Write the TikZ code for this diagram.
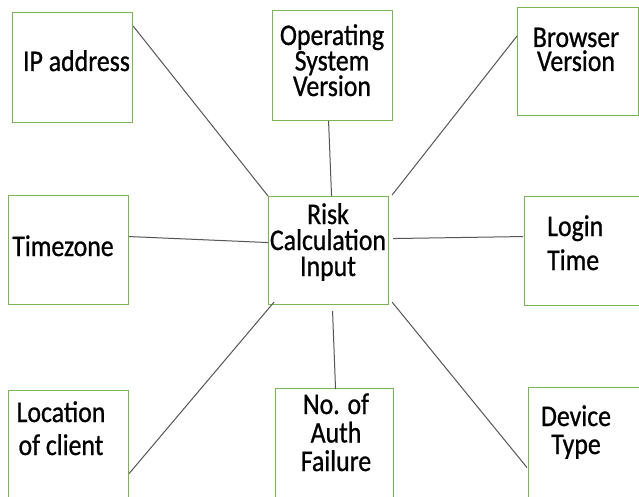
\documentclass[tikz,border=0pt]{standalone}
\usepackage{fontspec}
\setmainfont{Carlito}[FakeStretch=0.86,FakeBold=0.8]
\definecolor{boxgreen}{RGB}{122,180,84}
\definecolor{linkgray}{RGB}{85,85,85}
\begin{document}
\begin{tikzpicture}[x=1pt,y=-1pt,
  box/.style={draw=boxgreen,line width=1.1pt,inner sep=0pt,anchor=north west},
  lbl/.style={inner sep=0pt,anchor=base,align=center,text=black},
  link/.style={draw=linkgray,line width=1pt}]
\useasboundingbox[fill=white] (0,0) rectangle (639,497);
% boxes
\node[box,minimum width=120pt,minimum height=110pt] (ip) at (12,12) {};
\node[box,minimum width=120pt,minimum height=110pt] (os) at (272,10) {};
\node[box,minimum width=121pt,minimum height=108pt] (br) at (517,7) {};
\node[box,minimum width=120pt,minimum height=109pt] (tz) at (8,195) {};
\node[box,minimum width=120pt,minimum height=108pt] (risk) at (268,196) {};
\node[box,minimum width=120pt,minimum height=109pt] (login) at (524,196) {};
\node[box,minimum width=120pt,minimum height=115pt] (loc) at (8,390) {};
\node[box,minimum width=118pt,minimum height=117pt] (auth) at (275,388) {};
\node[box,minimum width=120pt,minimum height=118pt] (dev) at (528,387) {};
% labels (anchor = baseline of last line)
\node[lbl,font=\fontsize{30}{26}\selectfont] (ipT) at (76.5,71) {IP address};
\node[lbl,font=\fontsize{30}{25.5}\selectfont] (osT) at (332,96) {Operating\\System\\Version};
\node[lbl,font=\fontsize{30}{24}\selectfont] (brT) at (576,71) {Browser\\Version};
\node[lbl,font=\fontsize{30}{26}\selectfont] (tzT) at (63,256) {Timezone};
\node[lbl,font=\fontsize{30}{26}\selectfont] (riskT) at (328,276) {Risk\\Calculation\\Input};
\node[lbl,align=left,anchor=base west,font=\fontsize{30}{34}\selectfont] (loginT) at (547,270) {Login\\Time};
\node[lbl,font=\fontsize{30}{33}\selectfont] (locT) at (61,455) {Location\\of client};
\node[lbl,font=\fontsize{30}{28.5}\selectfont] (authT) at (336,471) {No. of\\Auth\\Failure};
\node[lbl,font=\fontsize{30}{28}\selectfont] (devT) at (576,454) {Device\\Type};
% connectors
\draw[link] ([yshift=-14pt]ip.north east) -- (risk.north west);
\draw[link] ([xshift=-4pt]os.south) -- ([xshift=3pt]risk.north);
\draw[link] ([yshift=-29pt]br.north west) -- ([xshift=3pt,yshift=1pt]risk.north east);
\draw[link] ([yshift=13.5pt]tz.east) -- ([yshift=8pt]risk.west);
\draw[link] ([xshift=4pt,yshift=12pt]risk.east) -- ([xshift=-1pt,yshift=14.5pt]login.west);
\draw[link] ([yshift=-25.5pt]loc.east) -- ([xshift=6pt,yshift=3pt]risk.south west);
\draw[link] ([xshift=4pt,yshift=-6pt]risk.south) -- ([xshift=1pt,yshift=-1pt]auth.north);
\draw[link] ([xshift=3pt,yshift=3pt]risk.south east) -- ([xshift=-1pt,yshift=-21pt]dev.west);
\end{tikzpicture}
\end{document}
